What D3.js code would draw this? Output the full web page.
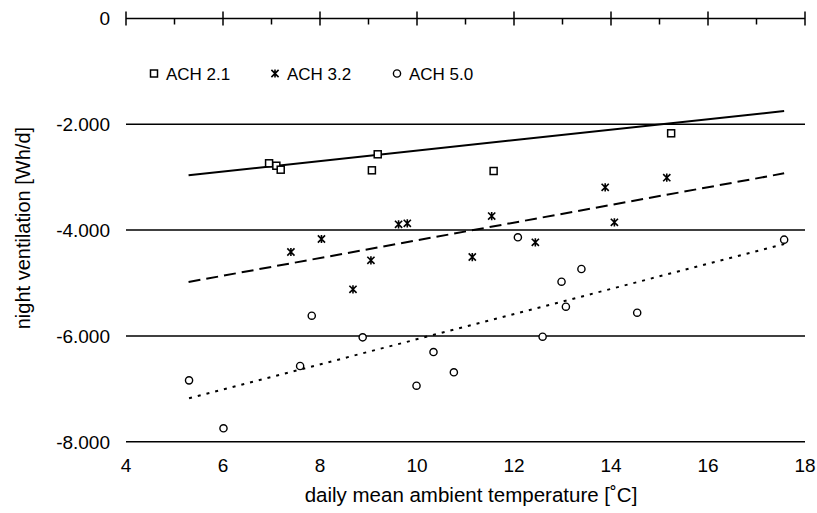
<!DOCTYPE html>
<html>
<head>
<meta charset="utf-8">
<script src="https://cdn.jsdelivr.net/npm/d3@7"></script>
<style>
  html, body { margin: 0; padding: 0; background: #fff; }
  svg { display: block; font-family: "Liberation Sans", Arial, sans-serif; }
</style>
</head>
<body>
<svg id="chart" width="817" height="513"></svg>
<script>
// ---- data ----
const seriesNames = ["ACH 2.1", "ACH 3.2", "ACH 5.0"];

const ach21Temp = [6.95, 7.10, 7.19, 9.07, 9.19, 11.58, 15.24];
const ach21Vent = [-2737, -2783, -2858, -2870, -2567, -2883, -2170];

const ach32Temp = [7.40, 8.03, 8.68, 9.05, 9.62, 9.80, 11.14, 11.54, 12.44, 13.88, 14.07, 15.15];
const ach32Vent = [-4414, -4168, -5119, -4571, -3891, -3872, -4509, -3735, -4231, -3191, -3853, -3009];

const ach50Temp = [5.30, 6.01, 7.59, 7.83, 8.88, 9.99, 10.34, 10.76, 12.08, 12.59, 12.98, 13.07, 13.39, 14.54, 17.57];
const ach50Vent = [-6840, -7747, -6569, -5618, -6027, -6941, -6305, -6688, -4136, -6015, -4975, -5448, -4735, -5561, -4181];

// linear trend lines: [startTemp, endTemp], [startVent, endVent]
const trendTemp = [[5.29, 17.57], [5.29, 17.57], [5.30, 17.57]];
const trendVent = [[-2964, -1749], [-4981, -2927], [-7180, -4263]];

const xTicks = [4, 6, 8, 10, 12, 14, 16, 18];
const xMinorTicks = [5, 7, 9, 11, 13, 15, 17];
const yTicks = [0, -2000, -4000, -6000, -8000];
const yTickLabels = ["0", "-2.000", "-4.000", "-6.000", "-8.000"];

const xTitle = "daily mean ambient temperature [˚C]";
const yTitle = "night ventilation [Wh/d]";

// ---- layout ----
const svg = d3.select("#chart");
const x = d3.scaleLinear().domain([4, 18]).range([126, 805]);
const y = d3.scaleLinear().domain([-8000, 0]).range([441.7, 18.5]);

const series = [
  { name: seriesNames[0], temp: ach21Temp, vent: ach21Vent, marker: "square", dash: null },
  { name: seriesNames[1], temp: ach32Temp, vent: ach32Vent, marker: "star", dash: "12,6" },
  { name: seriesNames[2], temp: ach50Temp, vent: ach50Vent, marker: "circle", dash: "3,6" }
];

// gridlines (non-zero values)
svg.append("g").selectAll("line")
  .data(yTicks.filter(d => d !== 0))
  .join("line")
  .attr("x1", x(4)).attr("x2", x(18))
  .attr("y1", d => y(d)).attr("y2", d => y(d))
  .attr("stroke", "#000").attr("stroke-width", 1.5);

// y tick labels
svg.append("g").selectAll("text")
  .data(yTicks)
  .join("text")
  .attr("x", 110)
  .attr("y", d => y(d))
  .attr("dy", "0.36em")
  .attr("text-anchor", "end")
  .attr("font-size", 19)
  .text((d, i) => yTickLabels[i]);

// horizontal axis at value 0 (top)
const axisG = svg.append("g");
axisG.append("line")
  .attr("x1", x(4)).attr("x2", x(18))
  .attr("y1", y(0)).attr("y2", y(0))
  .attr("stroke", "#000").attr("stroke-width", 1.5);
axisG.selectAll("line.major")
  .data(xTicks).join("line").attr("class", "major")
  .attr("x1", d => x(d)).attr("x2", d => x(d))
  .attr("y1", y(0) - 7).attr("y2", y(0) + 7)
  .attr("stroke", "#000").attr("stroke-width", 1.5);
axisG.selectAll("line.minor")
  .data(xMinorTicks).join("line").attr("class", "minor")
  .attr("x1", d => x(d)).attr("x2", d => x(d))
  .attr("y1", y(0)).attr("y2", y(0) + 6)
  .attr("stroke", "#000").attr("stroke-width", 1.5);

// x tick labels at bottom
svg.append("g").selectAll("text")
  .data(xTicks)
  .join("text")
  .attr("x", d => x(d))
  .attr("y", 472)
  .attr("text-anchor", "middle")
  .attr("font-size", 19)
  .text(d => d);

// axis titles
svg.append("text")
  .attr("x", 471)
  .attr("y", 502)
  .attr("text-anchor", "middle")
  .attr("font-size", 20.5)
  .text(xTitle);

svg.append("text")
  .attr("transform", `translate(30, ${(y(-2000) + y(-6000)) / 2 - 2}) rotate(-90)`)
  .attr("text-anchor", "middle")
  .attr("font-size", 20)
  .text(yTitle);

// trend lines
const lineGen = d3.line().x(d => x(d[0])).y(d => y(d[1]));
series.forEach((s, i) => {
  const pts = trendTemp[i].map((t, j) => [t, trendVent[i][j]]);
  svg.append("path")
    .attr("d", lineGen(pts))
    .attr("fill", "none")
    .attr("stroke", "#000")
    .attr("stroke-width", 2)
    .attr("stroke-dasharray", s.dash);
});

// markers
function drawMarker(g, type, cx, cy) {
  if (type === "square") {
    g.append("rect").attr("x", cx - 3.5).attr("y", cy - 3.5)
      .attr("width", 7).attr("height", 7)
      .attr("fill", "#fff").attr("stroke", "#000").attr("stroke-width", 1.5);
  } else if (type === "circle") {
    g.append("circle").attr("cx", cx).attr("cy", cy).attr("r", 3.6)
      .attr("fill", "#fff").attr("stroke", "#000").attr("stroke-width", 1.4);
  } else {
    const r = 3.6;
    g.append("path")
      .attr("d", `M${cx - r},${cy - r}L${cx + r},${cy + r}M${cx - r},${cy + r}L${cx + r},${cy - r}M${cx},${cy - r - 0.5}L${cx},${cy + r + 0.5}`)
      .attr("stroke", "#000").attr("stroke-width", 1.6).attr("fill", "none");
  }
}

series.forEach(s => {
  const g = svg.append("g");
  s.temp.forEach((t, j) => drawMarker(g, s.marker, x(t), y(s.vent[j])));
});

// legend
const legendX = [154, 275, 397];
series.forEach((s, i) => {
  const g = svg.append("g");
  drawMarker(g, s.marker, legendX[i], 73.5);
  g.append("text")
    .attr("x", legendX[i] + 12)
    .attr("y", 73.5)
    .attr("dy", "0.36em")
    .attr("font-size", 17)
    .text(s.name);
});
</script>
</body>
</html>
